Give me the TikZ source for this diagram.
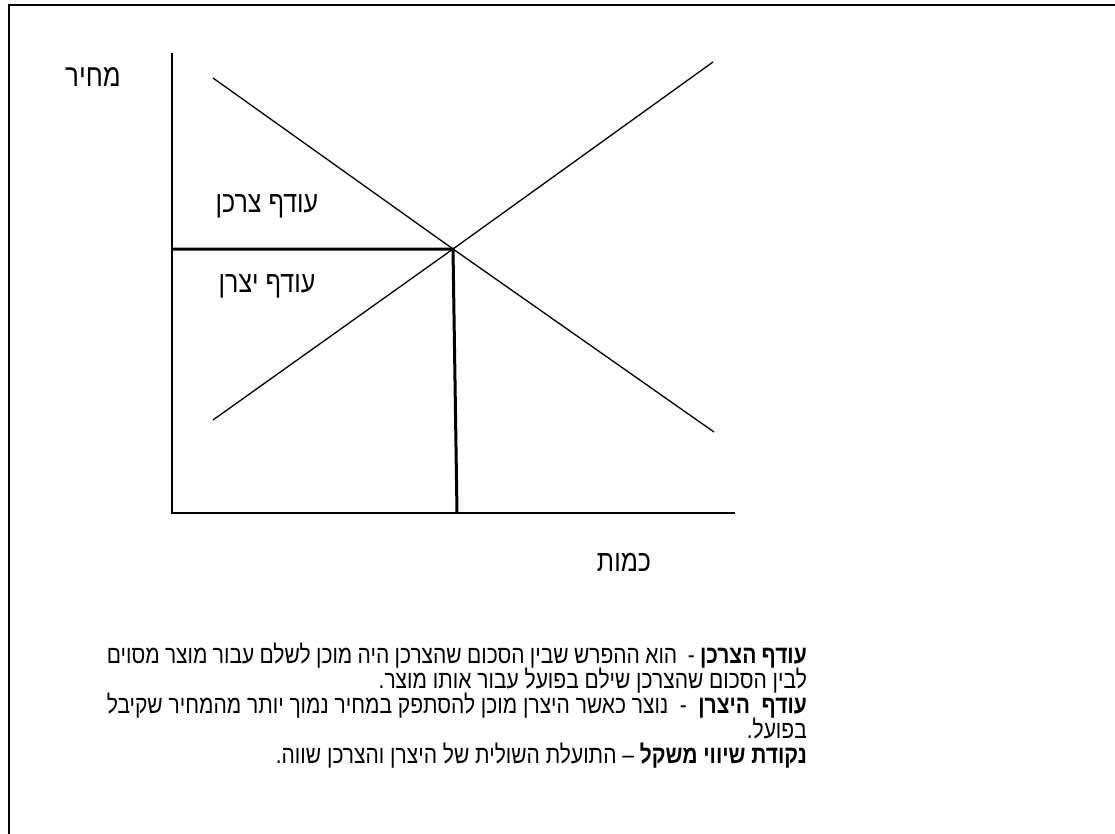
\documentclass[tikz,border=0pt]{standalone}
\usepackage{graphicx}
\usepackage{fontspec}
\setmainfont{Liberation Sans}
\newfontfamily\heb[Script=Hebrew]{Liberation Sans}
\TeXXeTstate=1
\newcommand\tallR[1]{\scalebox{1}[1.2]{#1}}
\begin{document}
\begin{tikzpicture}[x=1pt,y=-1pt,
  frameline/.style={line width=2pt},
  axisline/.style={line width=1.6pt},
  curveline/.style={line width=1.3pt},
  eqline/.style={line width=3pt},
  lbl/.style={font=\heb\fontsize{25}{29}\selectfont, inner sep=0pt},
  body/.style={font=\heb\fontsize{21}{25}\selectfont, inner sep=0pt, anchor=base east}]
\useasboundingbox (0,0) rectangle (1115,834);
% frame
\draw[frameline] (9,834) -- (9,5) -- (1115,5);
% axes
\coordinate (O) at (172,513);
\coordinate (Ytop) at (172,53);
\coordinate (Xend) at (735,513);
\draw[axisline] (Ytop) -- (O) -- (Xend);
% demand and supply (both through the equilibrium point E)
\coordinate (E) at (453,249);
\coordinate (D1) at (213,78);
\coordinate (D2) at (714,432);
\coordinate (S1) at (213,420);
\coordinate (S2) at (713,62);
\draw[curveline] (D1) -- (E) -- (D2);
\draw[curveline] (S1) -- (E) -- (S2);
% equilibrium lines
\coordinate (Py) at (172,249);
\coordinate (Qx) at (457,513);
\draw[eqline] (Py) -- (E) -- (Qx);
% labels
\node[lbl, font=\heb\fontsize{26}{30}\selectfont] (price) at (93,77) {\tallR{\beginR מחיר\endR}};
\node[lbl] (cs) at (267,206) {\tallR{\beginR עודף צרכן\endR}};
\node[lbl] (ps) at (267,286) {\tallR{\beginR עודף יצרן\endR}};
\node[lbl] (qty) at (624,562) {\tallR{\beginR כמות\endR}};
% explanation text
\node[body] (t1) at (807,663) {\tallR{\makebox[700pt][s]{\beginR\textbf{עודף הצרכן} -\ \ הוא ההפרש שבין הסכום שהצרכן היה מוכן לשלם עבור מוצר מסוים\endR}}};
\node[body] (t2) at (807,688) {\tallR{\beginR לבין הסכום שהצרכן שילם בפועל עבור אותו מוצר.\endR}};
\node[body] (t3) at (807,713) {\tallR{\makebox[700pt][s]{\beginR\textbf{עודף\ \ היצרן}\ \ -\ \ נוצר כאשר היצרן מוכן להסתפק במחיר נמוך יותר מהמחיר שקיבל\endR}}};
\node[body] (t4) at (807,738) {\tallR{\beginR בפועל.\endR}};
\node[body] (t5) at (807,763) {\tallR{\beginR\textbf{נקודת שיווי משקל} – התועלת השולית של היצרן והצרכן שווה.\endR}};
\end{tikzpicture}
\end{document}
